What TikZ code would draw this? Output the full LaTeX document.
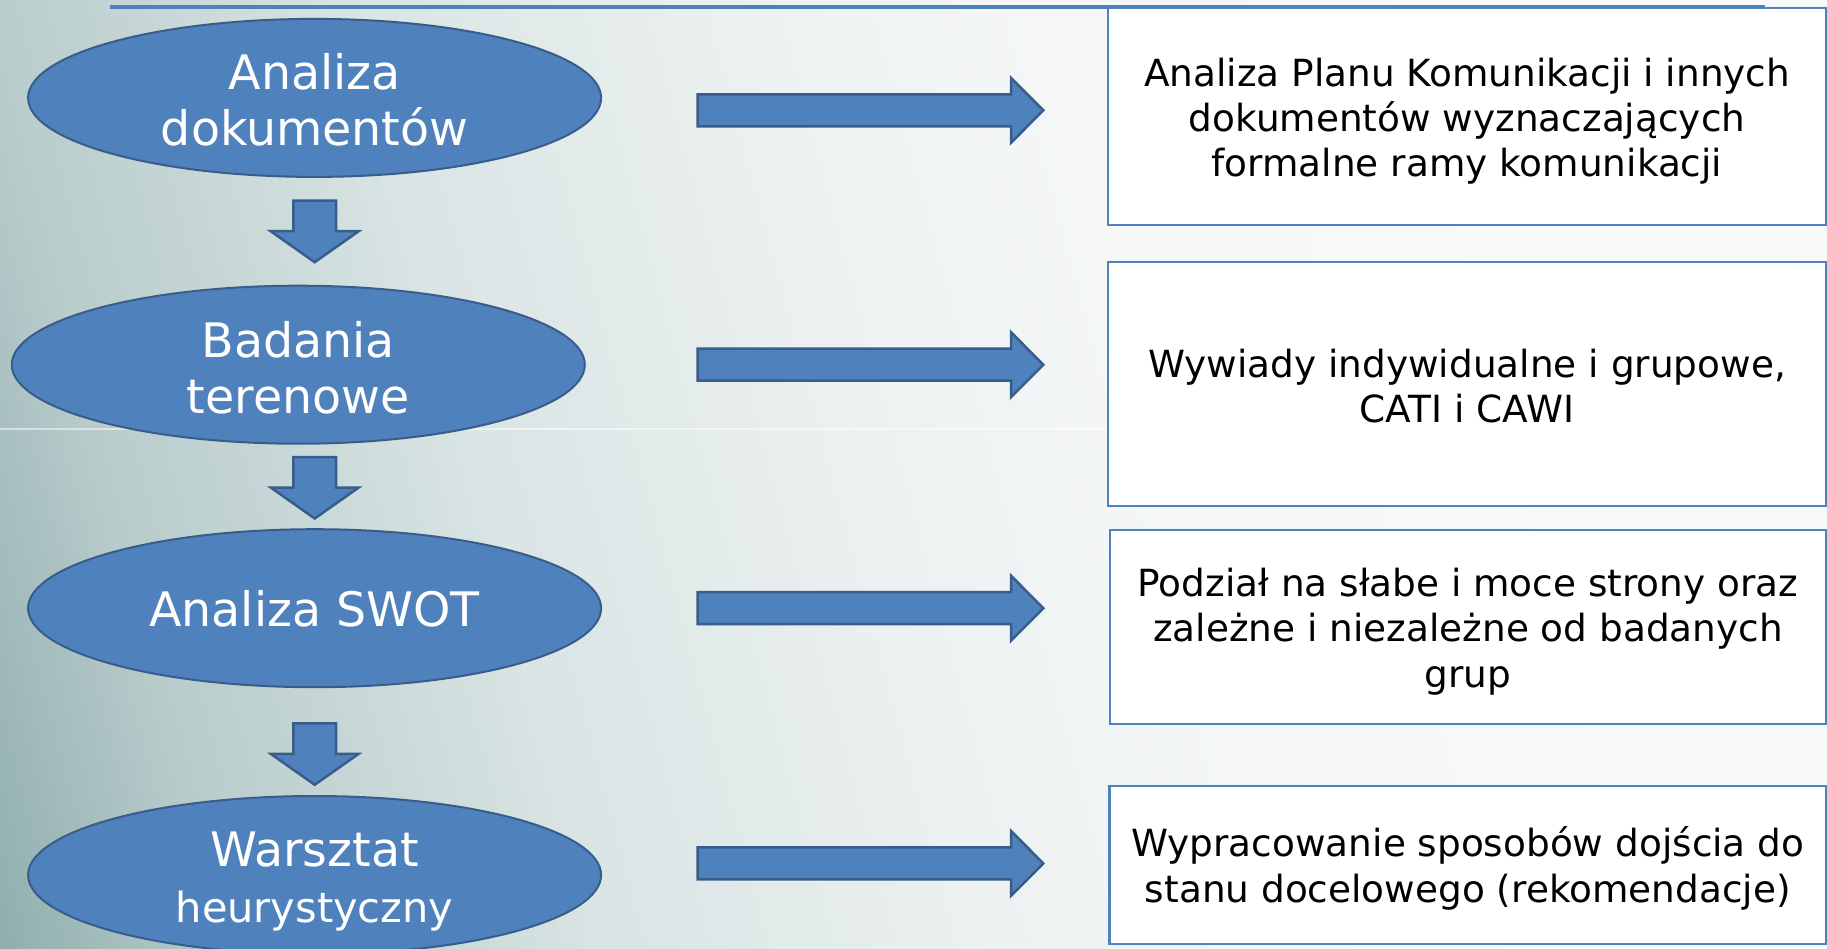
\documentclass[tikz,border=0pt]{standalone}
\usepackage{fontspec}
\setmainfont{DejaVu Sans}
\usetikzlibrary{shapes.geometric}
\definecolor{blu}{HTML}{4F81BD}
\definecolor{blud}{HTML}{385D8A}
\definecolor{bga}{RGB}{250,250,250}
\definecolor{bgb}{RGB}{248,249,249}
\definecolor{bgc}{RGB}{245,247,247}
\definecolor{bgd}{RGB}{237,241,241}
\definecolor{bge}{RGB}{217,228,228}
\definecolor{bgf}{RGB}{201,216,216}
\definecolor{bgg}{RGB}{184,203,203}
\definecolor{bgh}{RGB}{143,173,173}
\definecolor{bgi}{RGB}{130,163,163}
\pgfdeclarehorizontalshading{bgshade}{100bp}{color(0bp)=(bga); color(30bp)=(bgb); color(43bp)=(bgc); color(51bp)=(bgd); color(63bp)=(bge); color(68bp)=(bgf); color(74bp)=(bgg); color(81bp)=(bgh); color(100bp)=(bgi)}
\newcommand\dnarrow[1]{\draw[blk] (293.4,#1) -- (336,#1) -- (336,#1+30.5) -- (358.7,#1+30.5) -- (314.7,#1+61.5) -- (270.7,#1+30.5) -- (293.4,#1+30.5) -- cycle;}
\newcommand\rtarrow[1]{\draw[blk] (697.7,#1-16) -- (1011,#1-16) -- (1011,#1-32.5) -- (1043.3,#1) -- (1011,#1+32.5) -- (1011,#1+16) -- (697.7,#1+16) -- cycle;}
\begin{document}
\begin{tikzpicture}[x=1pt,y=-1pt,
  ell/.style={ellipse, draw=blud, line width=2pt, fill=blu, inner sep=0pt,
    minimum width=573pt, minimum height=158pt},
  elltxt/.style={text=white, inner sep=0pt, align=center, font=\fontsize{47.5}{56}\selectfont},
  box/.style={draw=blu, line width=2.2pt, fill=white, inner sep=0pt},
  boxtxt/.style={align=center, inner sep=0pt, font=\fontsize{37.4}{45.4}\selectfont},
  blk/.style={fill=blu, draw=blud, line width=2.5pt, line join=miter}]
\useasboundingbox (0,0) rectangle (1827,948);
\shade[shading=bgshade, shading angle=195] (0,0) rectangle (1827,948);
\draw[white, opacity=0.5, line width=1.5pt] (0,429) -- (1827,429);
\draw[blu, line width=4pt] (110,6.5) -- (1765,6.5);
% ellipses
\node[ell] (e1) at (314.6,97.9) {};
\node[ell] (e2) at (298.3,364.7) {};
\node[ell] (e3) at (314.6,608.2) {};
\node[ell] (e4) at (314.6,875) {};
\node[elltxt] (t-e1) at ([yshift=-1.7pt]e1.center) {Analiza\\dokumentów};
\node[elltxt] (t-e2) at ([yshift=-3pt]e2.center) {Badania\\terenowe};
\node[elltxt] (t-e3) at ([yshift=-1pt]e3.center) {Analiza SWOT};
\node[elltxt] (t-e4) at ([yshift=-6pt]e4.center) {Warsztat\\{\fontsize{41.5}{50}\selectfont heurystyczny}};
% down arrows
\dnarrow{200.7}
\dnarrow{457}
\dnarrow{723.3}
% right arrows
\rtarrow{110.3}
\rtarrow{364.7}
\rtarrow{608.2}
\rtarrow{863.4}
% boxes
\node[box, minimum width=718pt, minimum height=217pt] (b1) at (1467,116.5) {};
\node[box, minimum width=718pt, minimum height=244pt] (b2) at (1467,384) {};
\node[box, minimum width=716pt, minimum height=193.6pt] (b3) at (1468,626.8) {};
\node[box, minimum width=716.5pt, minimum height=158pt] (b4) at (1467.8,865) {};
\node[boxtxt] (t-b1) at ([yshift=-4.7pt]b1.center)
  {Analiza Planu Komunikacji i innych\\dokumentów wyznaczających\\formalne ramy komunikacji};
\node[boxtxt] (t-b2) at ([yshift=-2pt]b2.center)
  {Wywiady indywidualne i grupowe,\\CATI i CAWI};
\node[boxtxt] (t-b3) at ([yshift=-4.7pt]b3.center)
  {Podział na słabe i moce strony oraz\\zależne i niezależne od badanych\\grup};
\node[boxtxt] (t-b4) at ([yshift=-3.5pt]b4.center)
  {Wypracowanie sposobów dojścia do\\stanu docelowego (rekomendacje)};
\end{tikzpicture}
\end{document}
